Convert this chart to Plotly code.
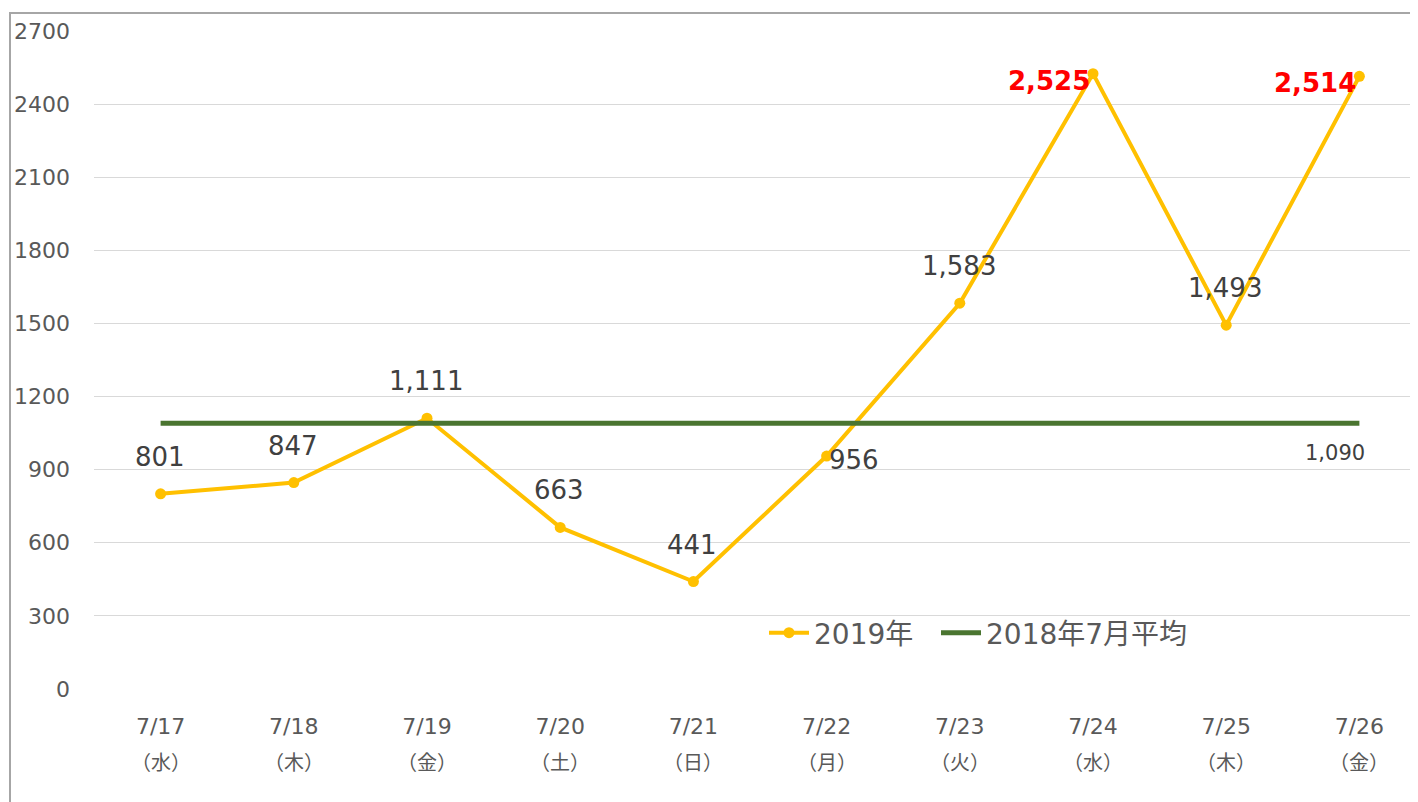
import plotly.graph_objects as go

# ---- data ----
dates = ["7/17", "7/18", "7/19", "7/20", "7/21", "7/22", "7/23", "7/24", "7/25", "7/26"]
weekdays = ["（水）", "（木）", "（金）", "（土）", "（日）", "（月）", "（火）", "（水）", "（木）", "（金）"]
values_2019 = [801, 847, 1111, 663, 441, 956, 1583, 2525, 1493, 2514]
avg_2018_july = 1090
y_ticks = [0, 300, 600, 900, 1200, 1500, 1800, 2100, 2400, 2700]
series_names = ["2019年", "2018年7月平均"]

FONT = "DejaVu Sans, Noto Sans CJK JP, sans-serif"
x = list(range(len(dates)))

OFF = 8  # page body margin
W, H = 1418 - OFF, 802 - OFF
L, T = 94 - OFF, 31 - OFF
B = H - (689 - OFF)
slot = 133.2
plot_h = H - T - B
plot_w = W - L

fig = go.Figure()
fig.add_trace(go.Scatter(
    x=x, y=values_2019, mode="lines+markers", name=series_names[0],
    line=dict(color="#FFC000", width=4),
    marker=dict(color="#FFC000", size=11),
    legend="legend",
))
fig.add_trace(go.Scatter(
    x=x, y=[avg_2018_july] * len(x), mode="lines", name=series_names[1],
    line=dict(color="#4A7530", width=5),
    legend="legend2",
))

annotations = []
max_two = sorted(values_2019, reverse=True)[:2]
for i, v in enumerate(values_2019):
    label = f"{v:,}"
    if v in max_two:
        annotations.append(dict(
            x=x[i], y=v, xref="x", yref="y", text=f"<b>{label}</b>", showarrow=False,
            xanchor="right", yanchor="middle", xshift=-1, yshift=-7,
            font=dict(family=FONT, size=26, color="#FF0000"),
        ))
    elif i == 5:
        annotations.append(dict(
            x=x[i], y=v, xref="x", yref="y", text=label, showarrow=False,
            xanchor="left", yanchor="middle", xshift=0, yshift=-4,
            font=dict(family=FONT, size=26, color="#404040"),
        ))
    else:
        annotations.append(dict(
            x=x[i], y=v, xref="x", yref="y", text=label, showarrow=False,
            xanchor="center", yanchor="middle", xshift=-1, yshift=37,
            font=dict(family=FONT, size=26, color="#404040"),
        ))

annotations.append(dict(
    x=x[-1], y=avg_2018_july, xref="x", yref="y", text=f"{avg_2018_july:,}",
    showarrow=False, xanchor="center", yanchor="middle", xshift=-24, yshift=-30,
    font=dict(family=FONT, size=21, color="#404040"),
))

for i, wd in enumerate(weekdays):
    annotations.append(dict(
        x=x[i], y=-(763 - 689) / plot_h, xref="x", yref="paper", text=wd,
        showarrow=False, xanchor="center", yanchor="middle",
        font=dict(family=FONT, size=20, color="#595959"),
    ))

left_border = (10 - 94) / plot_w
top_border = (689 - 13) / plot_h

legend_common = dict(
    orientation="h", xanchor="left",
    y=(689 - 633) / plot_h, yanchor="middle",
    font=dict(family=FONT, size=28, color="#595959"),
    bgcolor="rgba(0,0,0,0)", itemwidth=40,
)

fig.update_layout(
    width=W, height=H,
    margin=dict(l=L, r=0, t=T, b=B, pad=0),
    paper_bgcolor="white", plot_bgcolor="white",
    font=dict(family=FONT, color="#595959"),
    showlegend=True,
    legend=dict(x=(764 - 94) / plot_w, **legend_common),
    legend2=dict(x=(936 - 94) / plot_w, **legend_common),
    xaxis=dict(
        tickmode="array", tickvals=x, ticktext=dates,
        range=[-0.5, -0.5 + plot_w / slot],
        showgrid=False, zeroline=False, showline=False, ticks="",
        tickfont=dict(family=FONT, size=22, color="#595959"),
        ticklabelstandoff=22,
    ),
    yaxis=dict(
        tickmode="array", tickvals=y_ticks, ticktext=[str(t) for t in y_ticks],
        range=[0, 2700], showgrid=True, gridcolor="#D9D9D9", gridwidth=1,
        zeroline=False, showline=False, ticks="",
        tickfont=dict(family=FONT, size=22, color="#595959"),
        ticklabelstandoff=23,
    ),
    annotations=annotations,
    shapes=[dict(
        type="path", xref="paper", yref="paper",
        path=f"M {left_border},-0.5 L {left_border},{top_border} L 1.2,{top_border}",
        line=dict(color="#A6A6A6", width=2),
    )],
)

fig.write_html("out.html")
